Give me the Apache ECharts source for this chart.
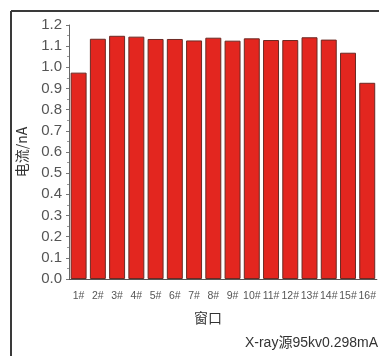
<!DOCTYPE html>
<html>
<head>
<meta charset="utf-8">
<script src="https://cdn.jsdelivr.net/npm/echarts@6/dist/echarts.min.js"></script>
<style>html,body{margin:0;padding:0;background:#fff;}#c{width:379px;height:356px;}</style>
</head>
<body>
<div id="c"></div>
<script>
const categories = ['1#','2#','3#','4#','5#','6#','7#','8#','9#','10#','11#','12#','13#','14#','15#','16#'];
const currents = [0.975, 1.135, 1.149, 1.145, 1.134, 1.134, 1.127, 1.140, 1.126, 1.137, 1.129, 1.129, 1.142, 1.131, 1.069, 0.927];
const yName = '电流/nA';
const xName = '窗口';
const note = 'X-ray源95kv0.298mA';

const chart = echarts.init(document.getElementById('c'), null, {renderer: 'canvas'});
const font = '"Liberation Sans", Arial, "Noto Sans CJK SC", sans-serif';
chart.setOption({
  animation: false,
  backgroundColor: '#fff',
  grid: {left: 69, right: 2, top: 25, bottom: 77, containLabel: false},
  xAxis: {
    type: 'category',
    data: categories,
    axisLine: {lineStyle: {color: '#555', width: 1}},
    axisTick: {alignWithLabel: true, length: 4, lineStyle: {color: '#777'}},
    axisLabel: {interval: 0, fontSize: 10.5, color: '#555', margin: 12, fontFamily: font}
  },
  yAxis: {
    type: 'value',
    min: 0, max: 1.2, interval: 0.1,
    name: yName,
    nameLocation: 'middle',
    nameGap: 40,
    nameTextStyle: {fontSize: 14, color: '#333', fontFamily: '"Noto Sans CJK SC", "Liberation Sans", sans-serif'},
    axisLine: {show: true, lineStyle: {color: '#666', width: 1}},
    axisTick: {show: true, length: 3, lineStyle: {color: '#777'}},
    minorTick: {show: true, splitNumber: 2, length: 2, lineStyle: {color: '#999'}},
    splitLine: {show: false},
    axisLabel: {fontSize: 15, color: '#555', margin: 7, fontFamily: font,
      formatter: v => v.toFixed(1)}
  },
  series: [{
    type: 'bar',
    data: currents,
    barCategoryGap: '17%',
    itemStyle: {color: '#e3261f', borderColor: '#6a2a24', borderWidth: 1}
  }],
  graphic: [
    {type: 'line', shape: {x1: 11, y1: 11, x2: 379, y2: 11}, style: {stroke: '#3a3a3a', lineWidth: 2}},
    {type: 'line', shape: {x1: 11, y1: 11, x2: 11, y2: 356}, style: {stroke: '#3a3a3a', lineWidth: 2}},
    {type: 'text', x: 208, y: 318, style: {text: xName, fontSize: 14, fill: '#333', align: 'center', verticalAlign: 'middle', fontFamily: '"Noto Sans CJK SC", sans-serif'}},
    {type: 'text', x: 378, y: 343, style: {text: note, fontSize: 14, fill: '#333', align: 'right', verticalAlign: 'middle', fontFamily: '"Liberation Sans", "Noto Sans CJK SC", sans-serif'}}
  ]
});
</script>
</body>
</html>
